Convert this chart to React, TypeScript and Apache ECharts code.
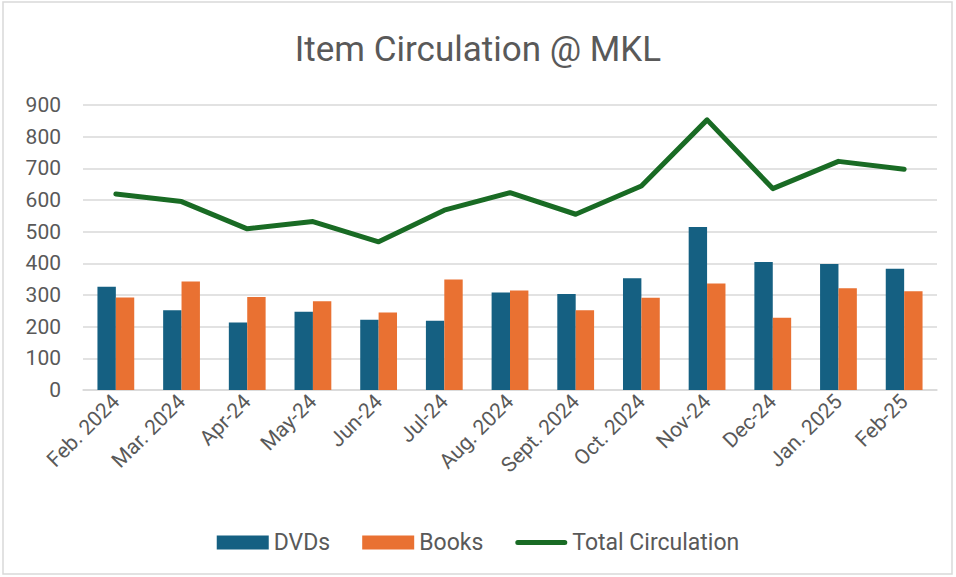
import React, { useEffect, useRef } from "react";
import * as echarts from "echarts";

const categories = [
  "Feb. 2024", "Mar. 2024", "Apr-24", "May-24", "Jun-24", "Jul-24", "Aug. 2024",
  "Sept. 2024", "Oct. 2024", "Nov-24", "Dec-24", "Jan. 2025", "Feb-25",
];
const dvds = [326, 252, 213, 247, 222, 219, 308, 303, 353, 515, 404, 398, 383];
const books = [292, 343, 294, 280, 245, 349, 314, 252, 291, 336, 228, 321, 312];
const total = [619, 595, 509, 532, 468, 568, 623, 555, 644, 853, 636, 722, 697];
const yTicks = { min: 0, max: 900, interval: 100 };

const FONT = "Roboto, 'Liberation Sans', sans-serif";
const TEXT = "#595959";

export default function App() {
  const ref = useRef<HTMLDivElement>(null);
  useEffect(() => {
    if (!ref.current) return;
    const chart = echarts.init(ref.current, null, { renderer: "svg" });
    chart.setOption({
      animation: false,
      backgroundColor: "#ffffff",
      textStyle: { fontFamily: FONT },
      title: {
        text: "Item Circulation @ MKL",
        left: "center",
        top: 27,
        textStyle: { fontFamily: FONT, fontSize: 35, fontWeight: "normal", color: TEXT },
      },
      graphic: [
        {
          type: "rect",
          shape: { x: 3, y: 2, width: 949, height: 572 },
          style: { fill: "none", stroke: "#d9d9d9", lineWidth: 1.5 },
          silent: true,
        },
      ],
      grid: { left: 83, right: 19, top: 105, bottom: 187, containLabel: false },
      legend: {
        top: 526,
        left: "center",
        itemWidth: 52,
        itemHeight: 14,
        itemGap: 32,
        textStyle: { fontFamily: FONT, fontSize: 23, color: TEXT },
        data: [
          { name: "DVDs", icon: "rect" },
          { name: "Books", icon: "rect" },
          {
            name: "Total Circulation",
            icon: "path://M2.5,0 L49.5,0 A2.5,2.5 0 0 1 49.5,5 L2.5,5 A2.5,2.5 0 0 1 2.5,0 Z",
          },
        ],
      },
      xAxis: {
        type: "category",
        data: categories,
        axisLine: { lineStyle: { color: "#d9d9d9", width: 1.5 } },
        axisTick: { show: false },
        axisLabel: {
          rotate: 45,
          margin: 8,
          fontFamily: FONT,
          fontSize: 21,
          color: TEXT,
          interval: 0,
        },
      },
      yAxis: {
        type: "value",
        min: yTicks.min,
        max: yTicks.max,
        interval: yTicks.interval,
        axisLine: { show: false },
        axisTick: { show: false },
        axisLabel: { fontFamily: FONT, fontSize: 21, color: TEXT, margin: 22 },
        splitLine: { lineStyle: { color: "#d9d9d9", width: 1.5 } },
      },
      series: [
        {
          name: "DVDs",
          type: "bar",
          data: dvds,
          barGap: "0%",
          barCategoryGap: "44%",
          itemStyle: { color: "#156082" },
        },
        {
          name: "Books",
          type: "bar",
          data: books,
          itemStyle: { color: "#E97132" },
        },
        {
          name: "Total Circulation",
          type: "line",
          data: total,
          symbol: "none",
          lineStyle: { color: "#196B24", width: 5, cap: "round", join: "round" },
          itemStyle: { color: "#196B24" },
          z: 5,
        },
      ],
    });
    return () => chart.dispose();
  }, []);
  return (
    <div
      ref={ref}
      style={{ position: "fixed", left: 0, top: 0, width: 956, height: 577 }}
    />
  );
}
